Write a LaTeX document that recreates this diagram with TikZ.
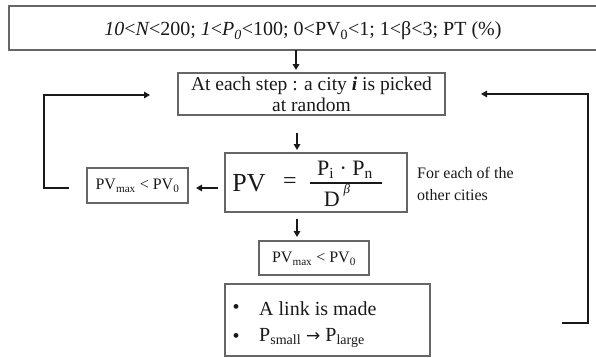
\documentclass[tikz,border=0pt]{standalone}
\usepackage{fontspec}
\setmainfont{Liberation Serif}
\newfontfamily\arrowfont{DejaVu Sans}
\usetikzlibrary{arrows.meta}
\tikzset{
  boxstyle/.style={draw=black!60, line width=1.3pt, inner sep=0pt, fill=white},
  conn/.style={line width=1.8pt, black!90},
  arr/.style={conn, -{Triangle[length=6pt,width=6.5pt]}},
  txt/.style={inner sep=0pt, text=black!90}
}
\begin{document}
\begin{tikzpicture}[x=1pt,y=-1pt]
\useasboundingbox (0,0) rectangle (596,357);
% top box
\node[boxstyle, minimum width=589pt, minimum height=44pt] (topbox) at (303.5,28) {};
\node[txt, font=\fontsize{20}{22}\selectfont] (toptext) at (303,31) {{\itshape 10}<{\itshape N}<200; {\itshape 1}<{\itshape P\textsubscript{0}}<100; 0<PV\textsubscript{0}<1; 1<β<3; PT (\%)};
% step box
\node[boxstyle, minimum width=267pt, minimum height=42pt] (stepbox) at (311.5,94) {};
\node[txt, align=center, font=\fontsize{19.5}{21}\selectfont] (steptext) at (311.5,94) {At each step : a city \textbf{\textit{i}} is picked\\at random};
% PV box
\node[boxstyle, minimum width=182pt, minimum height=59pt] (pvbox) at (316,182.5) {};
\node[txt, font=\fontsize{26}{26}\selectfont] (pvlabel) at (249,183) {PV};
\node[txt, font=\fontsize{24}{24}\selectfont] (pveq) at (290,183) {=};
\node[txt, font=\fontsize{22}{22}\selectfont, anchor=base] (pvnum) at (345,175) {P\textsubscript{i} · P\textsubscript{n}};
\node[txt, font=\fontsize{22}{22}\selectfont, anchor=base] (pvden) at (337,206) {D\,\raisebox{0.55em}{\fontsize{13}{13}\selectfont\itshape β}};
\coordinate (fracl) at (310,183);
\coordinate (fracr) at (382,183);
\draw[line width=1.3pt, black!90] (fracl) -- (fracr);
\node[txt, align=left, anchor=west, font=\fontsize{16}{22}\selectfont] (foreach) at (417,184) {For each of the\\other cities};
% left small box
\node[boxstyle, minimum width=101pt, minimum height=35pt] (pvl) at (137.5,185.5) {};
\node[txt, font=\fontsize{16}{16}\selectfont] (pvltext) at (137.5,186) {PV\textsubscript{max} < PV\textsubscript{0}};
% bottom small box
\node[boxstyle, minimum width=110pt, minimum height=34pt] (pvb) at (314,258) {};
\node[txt, font=\fontsize{16}{16}\selectfont] (pvbtext) at (314,259) {PV\textsubscript{max} < PV\textsubscript{0}};
% link box
\node[boxstyle, minimum width=205pt, minimum height=72pt] (link) at (327.5,320) {};
\node[txt, font=\fontsize{20}{20}\selectfont] (b1) at (236,309) {\textbullet};
\node[txt, font=\fontsize{20}{20}\selectfont] (b2) at (236,338) {\textbullet};
\node[txt, anchor=west, font=\fontsize{20}{20}\selectfont] (l1) at (259,309) {A link is made};
\node[txt, anchor=west, font=\fontsize{20}{20}\selectfont] (l2) at (259,338) {P\textsubscript{small} {\arrowfont\fontsize{17}{17}\selectfont →} P\textsubscript{large}};
% down arrows
\coordinate (a1s) at (296,50);
\coordinate (a1e) at (296,70);
\draw[arr] (a1s) -- (a1e);
\coordinate (a2s) at (297,133);
\coordinate (a2e) at (297,150);
\draw[arr] (a2s) -- (a2e);
\coordinate (a3s) at (297,219);
\coordinate (a3e) at (297,237);
\draw[arr] (a3s) -- (a3e);
% left arrow
\coordinate (a4s) at (218,188);
\coordinate (a4e) at (196,188);
\draw[arr] (a4s) -- (a4e);
% left loop
\coordinate (ll1) at (69,188);
\coordinate (ll2) at (44,188);
\coordinate (ll3) at (44,95);
\coordinate (ll4) at (150,95);
\draw[arr] (ll1) -- (ll2) -- (ll3) -- (ll4);
% right loop
\coordinate (rl1) at (562,323);
\coordinate (rl2) at (588,323);
\coordinate (rl3) at (588,94);
\coordinate (rl4) at (481,94);
\draw[arr] (rl1) -- (rl2) -- (rl3) -- (rl4);
\end{tikzpicture}
\end{document}
